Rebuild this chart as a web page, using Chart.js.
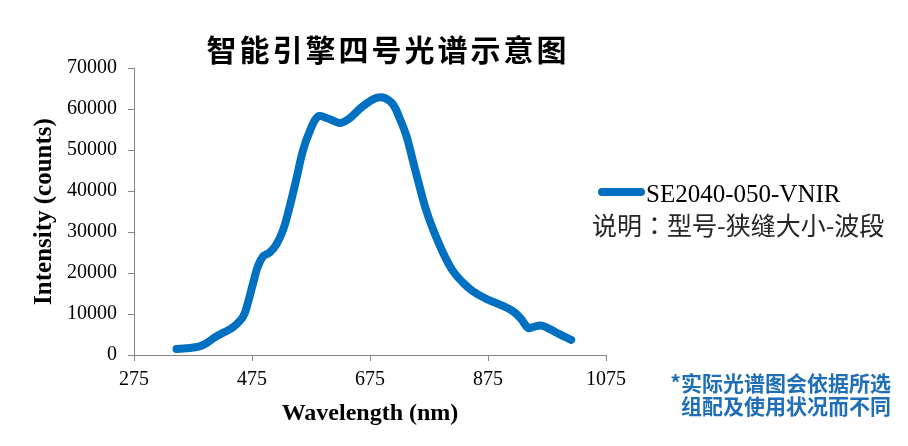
<!DOCTYPE html>
<html>
<head>
<meta charset="utf-8">
<script src="https://cdn.jsdelivr.net/npm/chart.js@4.4.0/dist/chart.umd.min.js"></script>
<style>
  html, body { margin: 0; padding: 0; background: #fff; }
  #wrap { position: relative; width: 908px; height: 446px; }
</style>
</head>
<body>
<div id="wrap"><canvas id="chart" width="908" height="446"></canvas></div>
<script>
// Spectrum
const wavelengths = [347, 364, 386, 398, 412, 426, 443, 460, 468, 477, 485, 494, 505, 516, 528, 539, 550, 561, 573, 587,
                     601, 615, 626, 641, 655, 669, 686, 700, 714, 725, 737, 748, 759, 770, 782, 799, 816, 833, 850, 872,
                     895, 917, 931, 943, 951, 965, 980, 996, 1016];
const intensities = [1460, 1630, 2100, 2900, 4300, 5400, 6800, 9400, 12700, 17600, 21600, 24100, 25000, 26900, 30600, 36300, 42800, 49700, 54600, 58200,
                     57800, 57000, 56600, 57800, 59700, 61300, 62700, 62700, 61100, 57800, 53300, 47200, 41100, 35400, 30600, 24900, 20400, 17600, 15500, 13700,
                     12300, 10700, 8800, 6600, 6800, 7200, 6300, 5100, 3700];
const seriesName = 'SE2040-050-VNIR';
const chartTitle = '智能引擎四号光谱示意图';
const legendNote = '说明：型号-狭缝大小-波段';
const footNote = ['*实际光谱图会依据所选', '组配及使用状况而不同'];
const xTitle = 'Wavelength (nm)';
const yTitle = 'Intensity (counts)';

const BLUE = '#0070C0';
const AXIS = '#868686';
const SERIF = '"Liberation Serif", "Times New Roman", serif';
const CJK = '"Noto Sans CJK SC", "Noto Sans", sans-serif';
const CJK_JP = '"Noto Sans CJK JP", "Noto Sans CJK SC", sans-serif';

// Title, legend and footnote drawn on the canvas after the chart
const decorations = {
    id: 'decorations',
    afterDraw(chart) {
        const ctx = chart.ctx;
        ctx.save();

        // title
        ctx.fillStyle = '#000';
        ctx.font = 'bold 30px ' + CJK;
        ctx.textAlign = 'center';
        ctx.textBaseline = 'middle';
        if ('letterSpacing' in ctx) ctx.letterSpacing = '3px';
        ctx.fillText(chartTitle, 388, 50);
        if ('letterSpacing' in ctx) ctx.letterSpacing = '0px';

        // legend
        ctx.strokeStyle = BLUE;
        ctx.lineWidth = 8;
        ctx.lineCap = 'round';
        ctx.beginPath();
        ctx.moveTo(602, 192);
        ctx.lineTo(641, 192);
        ctx.stroke();

        ctx.fillStyle = '#000';
        ctx.font = '25px ' + SERIF;
        ctx.textAlign = 'left';
        ctx.textBaseline = 'alphabetic';
        ctx.fillText(seriesName, 646, 202);

        ctx.fillStyle = '#262626';
        ctx.font = '25px ' + CJK_JP;
        ctx.textBaseline = 'middle';
        ctx.fillText(legendNote, 592, 225);

        // footnote
        ctx.fillStyle = '#1E6EB8';
        ctx.font = 'bold 21px ' + CJK;
        ctx.textAlign = 'right';
        ctx.fillText(footNote[0], 891, 383);
        ctx.fillText(footNote[1], 891, 406);

        ctx.restore();
    }
};

new Chart(document.getElementById('chart'), {
    type: 'line',
    data: {
        datasets: [{
            label: seriesName,
            data: wavelengths.map((w, i) => ({ x: w, y: intensities[i] })),
            borderColor: BLUE,
            backgroundColor: BLUE,
            borderWidth: 8,
            borderCapStyle: 'round',
            borderJoinStyle: 'round',
            pointRadius: 0,
            tension: 0.4,
            fill: false
        }]
    },
    options: {
        responsive: false,
        animation: false,
        layout: { padding: { left: 0, right: 302, top: 68, bottom: 0 } },
        plugins: {
            legend: { display: false },
            title: { display: false },
            tooltip: { enabled: false }
        },
        scales: {
            x: {
                type: 'linear',
                min: 275,
                max: 1075,
                afterFit: (scale) => { scale.height = 91; },
                ticks: {
                    stepSize: 200,
                    padding: 7,
                    color: '#000',
                    font: { family: SERIF, size: 20 },
                    maxRotation: 0,
                    callback: (v) => String(v)
                },
                grid: { drawOnChartArea: false, drawTicks: true, tickLength: 6, color: AXIS },
                border: { color: AXIS, width: 1 },
                title: {
                    display: true,
                    text: xTitle,
                    color: '#000',
                    font: { family: SERIF, size: 24, weight: 'bold' },
                    padding: { top: 0, bottom: 18 }
                }
            },
            y: {
                min: 0,
                max: 70000,
                afterFit: (scale) => { scale.width = 134; },
                ticks: {
                    stepSize: 10000,
                    padding: 11,
                    color: '#000',
                    font: { family: SERIF, size: 20 },
                    callback: (v) => String(v)
                },
                grid: { drawOnChartArea: false, drawTicks: true, tickLength: 6, color: AXIS },
                border: { color: AXIS, width: 1 },
                title: {
                    display: true,
                    text: yTitle,
                    color: '#000',
                    font: { family: SERIF, size: 25, weight: 'bold' },
                    padding: { top: 30, bottom: 0 }
                }
            }
        }
    },
    plugins: [decorations]
});
</script>
</body>
</html>
